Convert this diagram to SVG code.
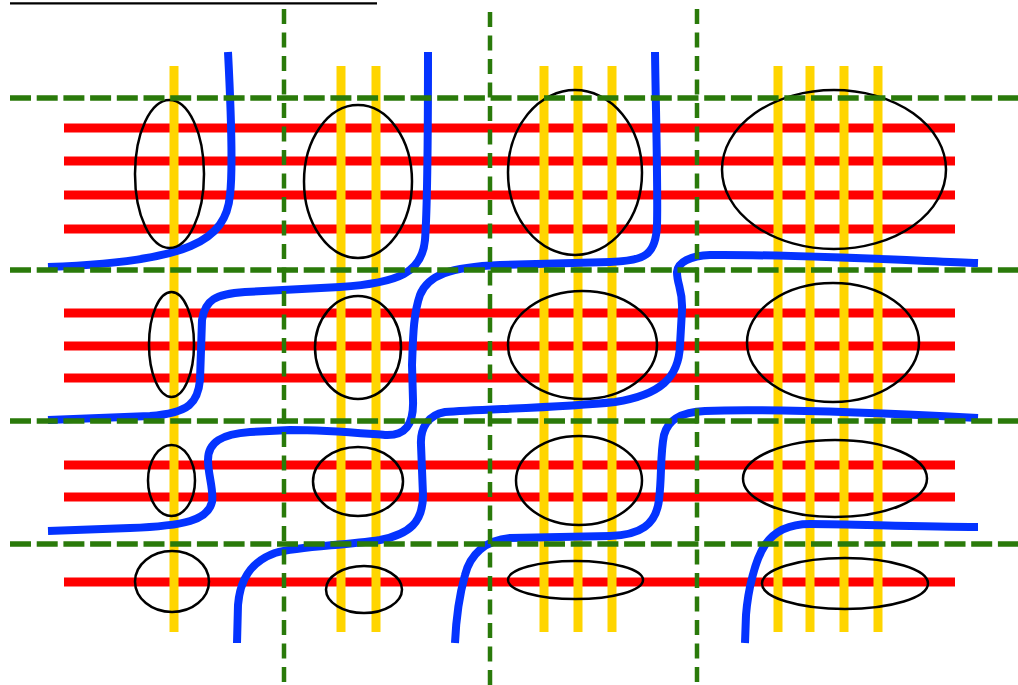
<svg xmlns="http://www.w3.org/2000/svg" width="1018" height="685" viewBox="0 0 1018 685">
<style>
.r{stroke:#ff0000;stroke-width:9;fill:none}
.y{stroke:#ffd500;stroke-width:9;fill:none}
.b{stroke:#0433ff;stroke-width:8;fill:none;stroke-linejoin:round}
.e{stroke:#000;stroke-width:2.5;fill:none}
.gh{stroke:#2a7a0a;stroke-width:5.5;stroke-dasharray:21 5.7;fill:none}
.gv{stroke:#2a7a0a;stroke-width:4.5;stroke-dasharray:15 8.5;fill:none}
</style>
<rect width="1018" height="685" fill="#fff"/>
<line x1="10" y1="3.3" x2="377" y2="3.3" stroke="#000" stroke-width="2.2"/>
<g id="red-lines">
<line class="r" x1="64" y1="128" x2="955" y2="128"/>
<line class="r" x1="64" y1="161" x2="955" y2="161"/>
<line class="r" x1="64" y1="195" x2="955" y2="195"/>
<line class="r" x1="64" y1="229" x2="955" y2="229"/>
<line class="r" x1="64" y1="313" x2="955" y2="313"/>
<line class="r" x1="64" y1="346" x2="955" y2="346"/>
<line class="r" x1="64" y1="378" x2="955" y2="378"/>
<line class="r" x1="64" y1="465" x2="955" y2="465"/>
<line class="r" x1="64" y1="497" x2="955" y2="497"/>
<line class="r" x1="64" y1="582" x2="955" y2="582"/>
</g>
<g id="yellow-lines">
<line class="y" x1="174" y1="66" x2="174" y2="632"/>
<line class="y" x1="341" y1="66" x2="341" y2="632"/>
<line class="y" x1="376" y1="66" x2="376" y2="632"/>
<line class="y" x1="544" y1="66" x2="544" y2="632"/>
<line class="y" x1="578" y1="66" x2="578" y2="632"/>
<line class="y" x1="612" y1="66" x2="612" y2="632"/>
<line class="y" x1="778" y1="66" x2="778" y2="632"/>
<line class="y" x1="810" y1="66" x2="810" y2="632"/>
<line class="y" x1="844" y1="66" x2="844" y2="632"/>
<line class="y" x1="878" y1="66" x2="878" y2="632"/>
</g>
<g id="connectors">
<path class="b" d="M228,52 C231,110 233,170 230,195 C226,240 190,262 48,267"/>
<path class="b" d="M428,52 C428,130 428,200 425,240 C422,272 400,283 340,287 L245,292 C215,294 205,300 202,320 L200,380 C198,402 190,413 150,416 L48,420"/>
<path class="b" d="M655,52 C656,120 658,190 657,225 C656,255 645,261 610,262 L500,265 C450,267 428,275 420,295 C413,315 413,340 412,365 L413,400 C414,425 405,436 385,435 C370,434 330,430 290,430 L250,432 C222,434 208,442 208,460 C208,475 214,490 212,502 C208,520 185,526 130,528 L48,531"/>
<path class="b" d="M978,263 C900,260 780,254 710,255 C690,256 678,262 677,272 C677,285 683,290 682,310 L680,345 C679,378 660,395 615,402 C560,408 480,409 445,412 C428,415 420,428 421,445 L423,495 C423,522 410,534 380,540 C340,546 300,546 275,553 C250,562 240,580 238,605 L237,643"/>
<path class="b" d="M978,418 C900,414 780,408 705,411 C680,412 668,420 664,435 C660,455 662,475 659,500 C656,525 640,535 610,536 L510,538 C485,540 470,555 465,575 C458,600 456,620 455,643"/>
<path class="b" d="M978,527 C920,527 850,524 810,524 C790,524 775,530 765,545 C755,560 748,590 746,615 L745,643"/>
</g>
<g id="ellipses">
<ellipse id="e1" class="e" cx="169.5" cy="174" rx="34.5" ry="74"/>
<ellipse id="e2" class="e" cx="358" cy="181.5" rx="54" ry="76.5"/>
<ellipse id="e3" class="e" cx="575" cy="172.5" rx="67" ry="82.5"/>
<ellipse id="e4" class="e" cx="834" cy="169.5" rx="112" ry="79.5"/>
<ellipse id="e5" class="e" cx="171.5" cy="344.5" rx="22.5" ry="52.5"/>
<ellipse id="e6" class="e" cx="358" cy="347.5" rx="43" ry="51.5"/>
<ellipse id="e7" class="e" cx="582.5" cy="345" rx="74.5" ry="54"/>
<ellipse id="e8" class="e" cx="833" cy="342.5" rx="86" ry="59.5"/>
<ellipse id="e9" class="e" cx="171.5" cy="480.5" rx="23.5" ry="35.5"/>
<ellipse id="e10" class="e" cx="358" cy="481.5" rx="45" ry="34.5"/>
<ellipse id="e11" class="e" cx="579" cy="480.5" rx="63" ry="44.5"/>
<ellipse id="e12" class="e" cx="835" cy="478.5" rx="92" ry="38.5"/>
<ellipse id="e13" class="e" cx="172" cy="581.5" rx="37" ry="30.5"/>
<ellipse id="e14" class="e" cx="364" cy="589.5" rx="38" ry="23.5"/>
<ellipse id="e15" class="e" cx="575.5" cy="580" rx="67.5" ry="19"/>
<ellipse id="e16" class="e" cx="845" cy="583.5" rx="83" ry="25.5"/>
</g>
<g id="grid">
<line class="gh" x1="10" y1="98" x2="1018" y2="98"/>
<line class="gh" x1="10" y1="270" x2="1018" y2="270"/>
<line class="gh" x1="10" y1="421" x2="1018" y2="421"/>
<line class="gh" x1="10" y1="544" x2="1018" y2="544"/>
<line class="gv" x1="284" y1="9" x2="284" y2="685"/>
<line class="gv" x1="490" y1="12" x2="490" y2="685"/>
<line class="gv" x1="697" y1="9" x2="697" y2="685"/>
</g>
</svg>
